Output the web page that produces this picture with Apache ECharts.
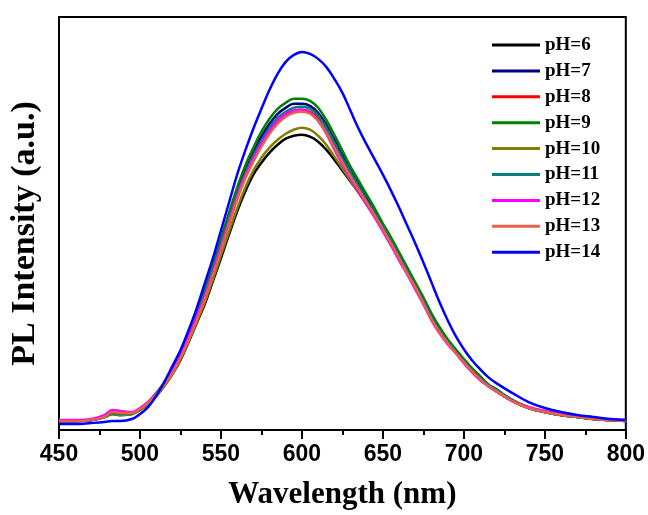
<!DOCTYPE html>
<html>
<head>
<meta charset="utf-8">
<script src="https://cdn.jsdelivr.net/npm/echarts@6/dist/echarts.min.js"></script>
<style>
html,body{margin:0;padding:0;background:#fff;}
#chart{width:648px;height:515px;}
</style>
</head>
<body>
<div id="chart"></div>
<script>
const wavelength = [450,460,470,478,483,488,495,500,505,510,515,520,525,530,535,540,545,550,555,560,565,570,575,580,585,590,595,600,605,610,615,620,625,630,635,640,645,650,655,660,665,670,675,680,685,690,695,700,705,710,715,720,730,740,750,760,770,780,790,800];

const pH6  = [9,9,10,13,16,15,16,20,26,34,44,56,70,88,107,126,149,172,196,219,239,256,268,278,286,292,295,296,294,289,281,271,260,249,238,226,214,201,186,172,157,143,128,112,99,88,78,68,59,51,44,39,29,22,18,15,13,11,10,9];
const pH7  = [9,9,10,13,17,16,17,21,27,35,46,59,75,94,115,137,162,188,214,239,260,278,294,307,317,323,327,327,325,318,306,291,275,260,246,232,218,204,190,175,160,145,130,114,100,89,79,69,60,52,45,40,30,22,18,15,13,11,10,9];
const pH8  = [9,9,10,13,18,17,17,21,27,35,45,58,73,92,112,133,157,182,208,233,254,271,286,299,309,316,320,321,319,312,300,285,270,256,242,229,216,202,188,173,158,143,128,112,99,88,78,68,59,51,44,39,29,22,18,15,13,11,10,9];
const pH9  = [9,9,10,13,16,15,16,21,28,37,48,62,78,98,119,141,166,192,218,243,265,283,299,312,322,328,332,332,330,323,311,296,280,264,250,236,222,207,193,178,163,148,133,117,103,91,81,71,62,54,46,41,30,23,18,15,13,11,10,9];
const pH10 = [9,9,10,13,16,15,16,20,26,34,44,56,71,89,108,128,151,175,199,222,243,260,273,283,291,297,301,303,301,295,286,274,262,250,238,226,214,201,186,172,157,143,128,112,99,88,78,68,59,51,44,39,29,22,18,15,13,11,10,9];
const pH11 = [9,9,10,13,17,16,17,21,27,35,46,58,74,93,114,136,160,186,211,236,257,275,290,303,313,319,323,324,322,315,303,288,272,258,244,230,217,203,189,174,159,144,129,113,99,88,78,68,59,51,45,40,30,22,18,15,13,11,10,9];
const pH12 = [10,10,11,15,20,19,18,22,28,36,46,59,74,93,113,134,158,183,209,234,255,272,287,300,310,317,320,321,318,310,297,281,266,252,239,226,213,199,185,170,156,141,126,110,97,86,77,67,58,50,44,39,29,23,19,16,14,12,11,10];
const pH13 = [9,9,10,13,18,17,17,21,27,35,45,57,72,90,110,131,155,180,206,231,252,269,284,297,307,314,318,319,317,310,298,283,268,254,241,228,215,201,187,172,157,143,127,111,98,87,77,68,59,51,44,39,29,22,18,15,13,11,10,9];
const pH14 = [6,6,7,8,9,9,11,16,23,34,48,64,80,100,122,147,172,200,228,256,280,302,322,341,357,369,376,379,377,372,364,352,338,320,302,286,271,256,240,223,205,187,168,148,128,110,94,81,70,61,53,47,37,28,22,18,15,13,11,10];

const seriesNames = ['pH=6','pH=7','pH=8','pH=9','pH=10','pH=11','pH=12','pH=13','pH=14'];
const seriesValues = [pH6,pH7,pH8,pH9,pH10,pH11,pH12,pH13,pH14];
const seriesColors = ['#000000','#000080','#ff0000','#008000','#808000','#008080','#ff00ff','#e8604c','#0000ff'];
const xTicks = [450,500,550,600,650,700,750,800];

const chart = echarts.init(document.getElementById('chart'), null, {renderer:'canvas'});
const serif = '"Liberation Serif","Times New Roman",serif';
const sans = '"Liberation Sans",Arial,sans-serif';

chart.setOption({
  animation:false,
  backgroundColor:'#ffffff',
  grid:{left:59,right:22,top:17,bottom:83,show:true,borderColor:'#000',borderWidth:2,backgroundColor:'transparent'},
  legend:{
    left:492, top:35, padding:0, orient:'vertical', icon:'rect', itemWidth:48, itemHeight:3, itemGap:5.9,
    textStyle:{fontFamily:serif,fontWeight:'bold',fontSize:19,color:'#000',lineHeight:20},
    data:seriesNames
  },
  xAxis:{
    type:'value', min:xTicks[0], max:xTicks[xTicks.length-1], interval:50,
    name:'Wavelength (nm)', nameLocation:'middle', nameGap:49,
    nameTextStyle:{fontFamily:serif,fontWeight:'bold',fontSize:31,color:'#000'},
    axisLine:{show:true,lineStyle:{color:'#000',width:2}},
    axisTick:{show:true,inside:false,length:9,lineStyle:{color:'#000',width:2}},
    minorTick:{show:true,splitNumber:2,length:5,lineStyle:{color:'#000',width:2}},
    axisLabel:{fontFamily:sans,fontWeight:'bold',fontSize:23,color:'#000',margin:13},
    splitLine:{show:false}
  },
  yAxis:{
    type:'value', min:0, max:414,
    name:'PL Intensity (a.u.)', nameLocation:'middle', nameGap:17, nameRotate:90,
    nameTextStyle:{fontFamily:serif,fontWeight:'bold',fontSize:34,color:'#000',padding:[0,20,0,0]},
    axisLine:{show:true,lineStyle:{color:'#000',width:2}},
    axisTick:{show:false}, axisLabel:{show:false}, splitLine:{show:false}
  },
  series: seriesNames.map((n,i)=>({
    name:n, type:'line', showSymbol:false, smooth:0.4,
    lineStyle:{width:2.5,color:seriesColors[i]}, itemStyle:{color:seriesColors[i]},
    data: wavelength.map((w,j)=>[w, seriesValues[i][j]])
  }))
});
</script>
</body>
</html>
